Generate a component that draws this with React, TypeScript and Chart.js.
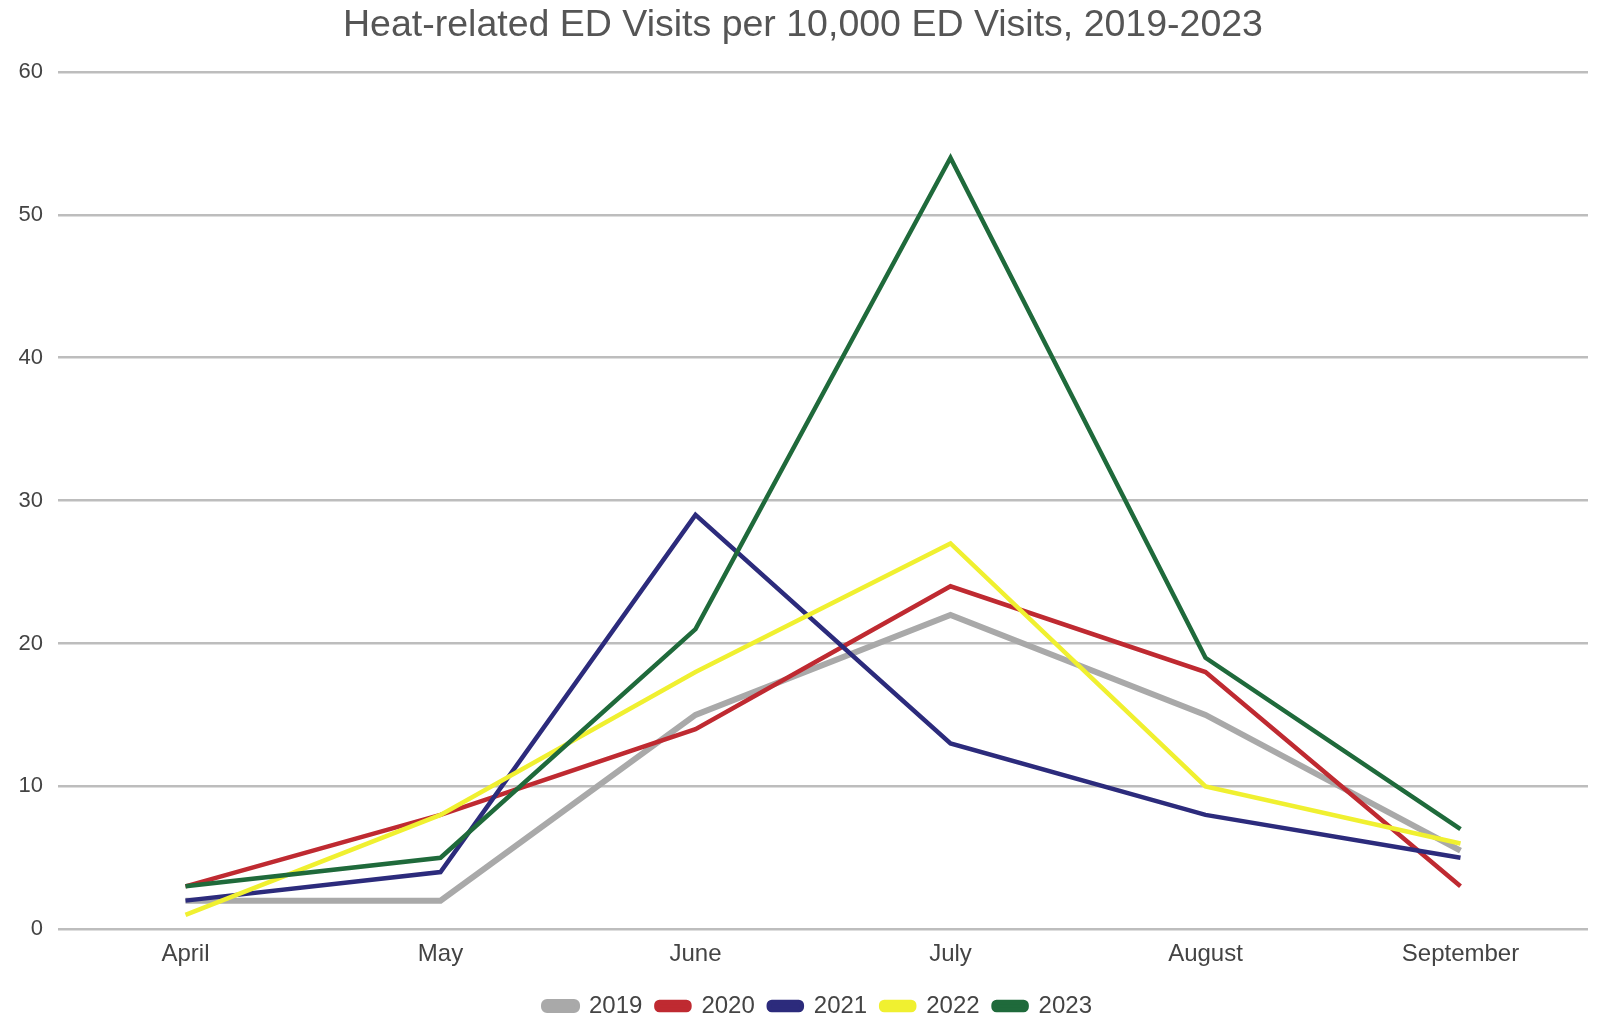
import { useEffect, useRef } from 'react'
import { Chart, registerables, type Plugin } from 'chart.js'

Chart.register(...registerables)

const months = ['April', 'May', 'June', 'July', 'August', 'September']
const years = ['2019', '2020', '2021', '2022', '2023']

const v2019 = [2, 2, 15, 22, 15, 5.5]
const v2020 = [3, 8, 14, 24, 18, 3]
const v2021 = [2, 4, 29, 13, 8, 5]
const v2022 = [1, 8, 18, 27, 10, 6]
const v2023 = [3, 5, 21, 54, 19, 7]

const colors = ['#a9a9a9', '#bf2a31', '#2c2b7c', '#f0f030', '#1f6a3b']
const widths = [6, 4.5, 4.5, 4.5, 4.5]

const FONT = '"Liberation Sans", Arial, sans-serif'

// nudge the legend a little to the right, like the original
const shiftLegend: Plugin<'line'> = {
  id: 'shiftLegend',
  afterLayout(chart) {
    if (chart.legend) chart.legend.left += 30
  },
}

export default function App() {
  const canvasRef = useRef<HTMLCanvasElement>(null)

  useEffect(() => {
    document.body.style.margin = '0'
    if (!canvasRef.current) return
    const series = [v2019, v2020, v2021, v2022, v2023]
    const chart = new Chart(canvasRef.current, {
      type: 'line',
      plugins: [shiftLegend],
      data: {
        labels: months,
        datasets: years.map((y, i) => ({
          label: y,
          data: series[i],
          borderColor: colors[i],
          backgroundColor: colors[i],
          borderWidth: widths[i],
          pointRadius: 0,
          tension: 0,
          // later years are drawn on top
          order: years.length - i,
        })),
      },
      options: {
        responsive: false,
        animation: false,
        layout: { padding: { left: 18, right: 12, top: 0, bottom: 0 } },
        plugins: {
          title: {
            display: true,
            text: 'Heat-related ED Visits per 10,000 ED Visits, 2019-2023',
            color: '#555555',
            font: { family: FONT, size: 37.5, weight: 'normal', lineHeight: 1.2 },
            padding: { top: 3, bottom: 24 },
          },
          legend: {
            position: 'bottom',
            labels: {
              sort: (a, b) => (a.datasetIndex ?? 0) - (b.datasetIndex ?? 0),
              boxWidth: 33,
              boxHeight: 8,
              useBorderRadius: true,
              borderRadius: 3,
              padding: 14,
              color: '#444444',
              font: { family: FONT, size: 24 },
            },
          },
          tooltip: { enabled: false },
        },
        scales: {
          x: {
            offset: true,
            grid: { display: false, drawTicks: false },
            border: { display: false },
            ticks: { color: '#444444', padding: 11, font: { family: FONT, size: 24 } },
          },
          y: {
            min: 0,
            max: 60,
            afterFit: (scale) => {
              scale.width = 40
            },
            ticks: { stepSize: 10, color: '#444444', padding: 15, font: { family: FONT, size: 22 } },
            grid: { color: '#bdbdbd', lineWidth: 2.5, drawTicks: false },
            border: { display: false },
          },
        },
      },
    })
    return () => chart.destroy()
  }, [])

  return (
    <div style={{ width: 1600, height: 1018, background: '#fff', overflow: 'hidden' }}>
      <canvas ref={canvasRef} width={1600} height={1028} />
    </div>
  )
}
